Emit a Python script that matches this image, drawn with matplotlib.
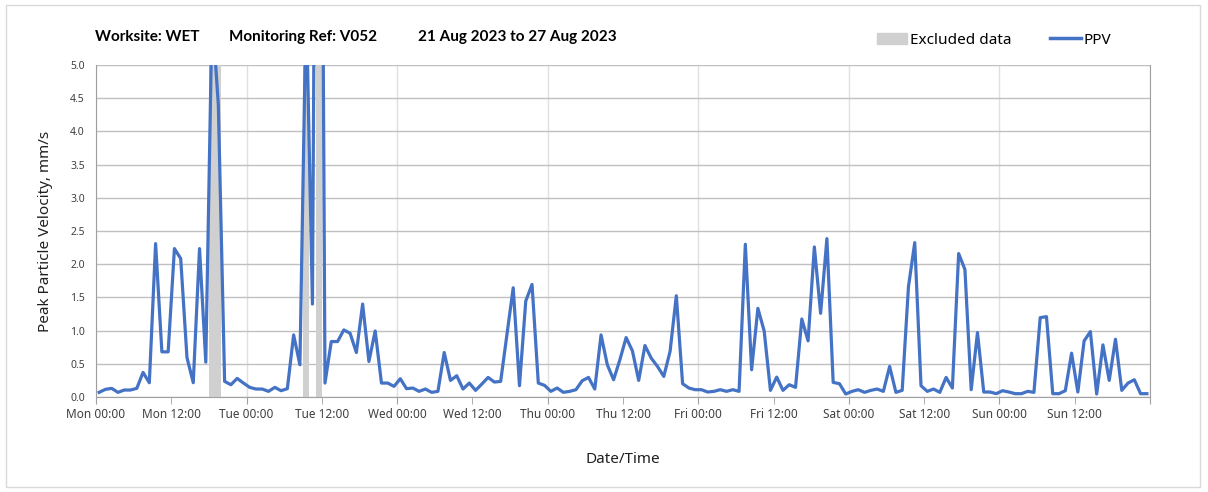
import matplotlib
matplotlib.use("Agg")
import matplotlib.pyplot as plt
import numpy as np
from matplotlib.patches import Patch, Rectangle
from matplotlib.lines import Line2D

# hourly PPV values, Mon 21 Aug 00:00 -> Sun 27 Aug 23:00 (mm/s)
ppv = [
    0.07, 0.115, 0.13, 0.07, 0.105, 0.105, 0.13, 0.37, 0.215, 2.31, 0.68, 0.68,
    2.235, 2.085, 0.595, 0.215, 2.235, 0.525, 5.8, 4.4, 0.235, 0.185, 0.28, 0.21,
    0.145, 0.12, 0.12, 0.085, 0.145, 0.095, 0.125, 0.935, 0.485, 6.0, 1.4, 18.0,
    0.21, 0.835, 0.835, 1.01, 0.96, 0.67, 1.40, 0.535, 0.995, 0.21, 0.21, 0.16,
    0.275, 0.125, 0.135, 0.085, 0.12, 0.07, 0.085, 0.67, 0.25, 0.32, 0.12, 0.21,
    0.10, 0.195, 0.295, 0.225, 0.235, 0.94, 1.645, 0.17, 1.445, 1.695, 0.21, 0.175,
    0.085, 0.135, 0.07, 0.085, 0.11, 0.245, 0.295, 0.12, 0.935, 0.485, 0.26, 0.56,
    0.895, 0.695, 0.25, 0.775, 0.585, 0.46, 0.31, 0.685, 1.525, 0.2, 0.135, 0.11,
    0.11, 0.075, 0.085, 0.11, 0.085, 0.11, 0.085, 2.30, 0.41, 1.335, 0.995, 0.10,
    0.30, 0.10, 0.185, 0.145, 1.175, 0.845, 2.26, 1.26, 2.385, 0.22, 0.20, 0.045,
    0.085, 0.11, 0.07, 0.10, 0.12, 0.085, 0.46, 0.07, 0.10, 1.66, 2.325, 0.17,
    0.085, 0.12, 0.07, 0.295, 0.135, 2.16, 1.92, 0.11, 0.97, 0.075, 0.075, 0.05,
    0.095, 0.075, 0.05, 0.05, 0.085, 0.07, 1.195, 1.21, 0.05, 0.05, 0.095, 0.66,
    0.075, 0.845, 0.985, 0.045, 0.785, 0.25, 0.87, 0.10, 0.21, 0.26, 0.05, 0.05,
]
# hour indices flagged as excluded
excluded = [18, 19, 33, 35]

days = ["Mon", "Tue", "Wed", "Thu", "Fri", "Sat", "Sun"]
day_labels = [d + " 00:00" for d in days]
noon_labels = [d + " 12:00" for d in days]

hours = np.arange(len(ppv)) + 0.5

plt.rcParams["font.family"] = ["Noto Sans", "DejaVu Sans"]

fig = plt.figure(figsize=(12.08, 4.92), dpi=100)
ax = fig.add_axes([96 / 1208, 95 / 492, 1054 / 1208, 332 / 492])

grey = "#d0d0d0"
blue = "#4472c4"

ax.bar([excluded_h + 0.5 for excluded_h in excluded], [5.0] * len(excluded),
       width=0.95, color=grey, zorder=1)
ax.plot(hours, ppv, color=blue, lw=2.3, zorder=3)

ax.set_xlim(0, 168)
ax.set_ylim(0, 5)
ax.set_yticks(np.arange(0, 5.01, 0.5))
ax.set_yticklabels(["%.1f" % v for v in np.arange(0, 5.01, 0.5)], fontsize=7.5, color="#404040")

ax.set_xticks(np.arange(0, 169, 24))
ax.set_xticklabels(day_labels + [""], fontsize=8.5, color="#404040")
ax.set_xticks(np.arange(12, 168, 24), minor=True)
ax.set_xticklabels(noon_labels, minor=True, fontsize=8.5, color="#404040")
ax.tick_params(axis="x", which="both", length=5, color="#a0a0a0", pad=3)
ax.tick_params(axis="y", length=0, pad=8)

ax.grid(axis="y", color="#c0c0c0", lw=1.0, zorder=0)
ax.grid(axis="x", which="major", color="#e0e0e0", lw=1.0, zorder=0)
ax.set_axisbelow(True)
for s in ["left", "bottom", "right"]:
    ax.spines[s].set_color("#a0a0a0")
ax.spines["top"].set_visible(False)

ax.set_ylabel("Peak Particle Velocity, mm/s", fontsize=11, color="#202020", labelpad=12)
ax.set_xlabel("Date/Time", fontsize=11, color="#202020", labelpad=22)

tkw = dict(fontsize=11, fontweight="bold", va="center", color="black",
           family=["Lato", "DejaVu Sans"])
fig.text(95 / 1208, 1 - 37 / 492, "Worksite: WET", **tkw)
fig.text(229 / 1208, 1 - 37 / 492, "Monitoring Ref: V052", **tkw)
fig.text(418 / 1208, 1 - 37 / 492, "21 Aug 2023 to 27 Aug 2023", **tkw)

handles = [Patch(color=grey), Line2D([], [], color=blue, lw=2.5)]
fig.legend(handles, ["Excluded data", "PPV"], loc="center right",
           bbox_to_anchor=(1125 / 1208, 1 - 40 / 492), ncol=2, frameon=False,
           fontsize=11, handlelength=2.0, handletextpad=0.2, columnspacing=2.5)

fig.patches.append(Rectangle((6 / 1208, 5 / 492), 1194 / 1208, 482 / 492,
                             transform=fig.transFigure, fill=False,
                             edgecolor="#d9d9d9", lw=1))

fig.savefig("out.png", dpi=100)
